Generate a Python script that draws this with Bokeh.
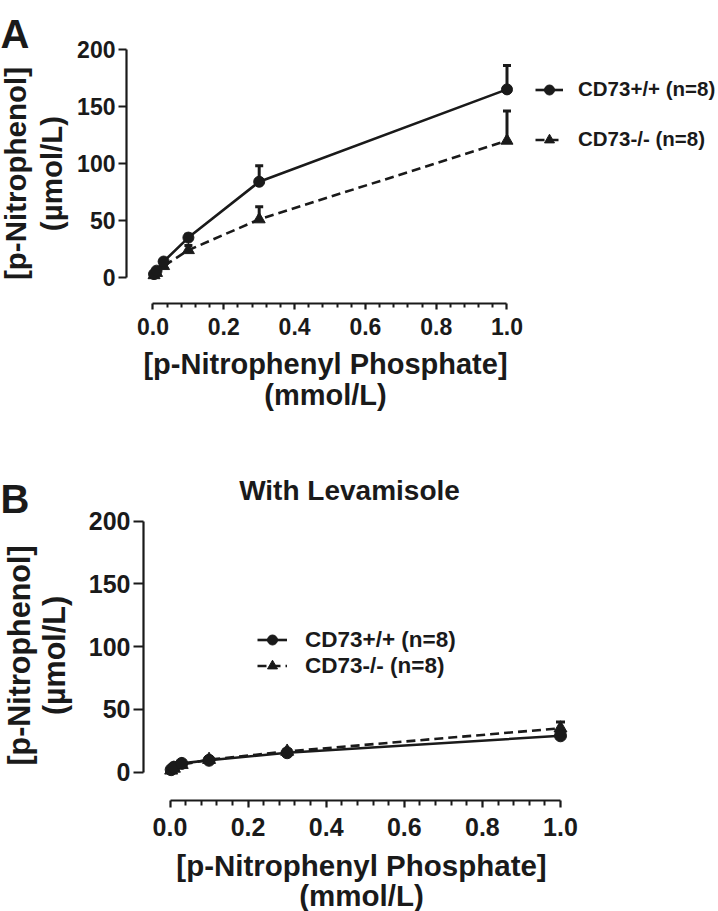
from math import pi
from bokeh.plotting import figure
from bokeh.models import (Range1d, FixedTicker, PrintfTickFormatter, Whisker, TeeHead,
                          ColumnDataSource, Legend, LegendItem, Label, LinearAxis)
from bokeh.embed import file_html
from bokeh.resources import INLINE

# ---------------- data ----------------
conc = [0.003, 0.01, 0.03, 0.1, 0.3, 1.0]          # mmol/L p-nitrophenyl phosphate

a_wt = [3, 6, 14, 35, 84, 165]
a_wt_sem = [1, 1, 2, 3, 14, 21]
a_ko = [2, 4, 10, 24, 51, 120]
a_ko_sem = [1, 1, 1, 4, 11, 26]

b_wt = [2, 4, 7, 9.5, 15.5, 29]
b_wt_sem = [1, 1, 1, 1, 1, 3]
b_ko = [1.5, 3, 6, 10, 16.5, 35]
b_ko_sem = [0.5, 1, 1, 1, 1.5, 5]

series_labels = ["CD73+/+ (n=8)", "CD73-/- (n=8)"]
x_ticks = [0.0, 0.2, 0.4, 0.6, 0.8, 1.0]
x_minor = [0.04, 0.08, 0.12, 0.16, 0.24, 0.28, 0.32, 0.36, 0.44, 0.48, 0.52, 0.56,
           0.64, 0.68, 0.72, 0.76, 0.84, 0.88, 0.92, 0.96]
y_ticks = [0, 50, 100, 150, 200]
x_title = ["[p-Nitrophenyl Phosphate]", "(mmol/L)"]
y_title = ["[p-Nitrophenol]", "(µmol/L)"]
panel_letters = ["A", "B"]
panel_b_title = "With Levamisole"

FONT = "Liberation Sans"
INK = "#1a1a1a"
W, H = 718, 911

# One canvas; panel A uses the default ranges, panel B the "b" ranges.
p = figure(width=W, height=H, title=None,
           x_range=Range1d(-0.43079, 1.59746), y_range=Range1d(-556.14, 242.98),
           x_axis_location=None, y_axis_location=None,
           output_backend="svg", toolbar_location=None,
           min_border=0, min_border_left=0, min_border_right=0,
           min_border_top=0, min_border_bottom=0)
p.extra_x_ranges = {"b": Range1d(-0.43406, 1.40461)}
p.extra_y_ranges = {"b": Range1d(-111.0, 614.9)}
p.outline_line_color = None
p.grid.visible = False
p.background_fill_color = "white"
p.border_fill_color = "white"


def style_axis(ax, tick_fs, tick_out, minor_out, standoff):
    ax.axis_line_width = 2.2
    ax.axis_line_color = INK
    ax.major_tick_line_width = 2.2
    ax.major_tick_line_color = INK
    ax.minor_tick_line_width = 2
    ax.minor_tick_line_color = INK
    ax.major_tick_in = 0
    ax.minor_tick_in = 0
    ax.major_tick_out = tick_out
    ax.minor_tick_out = minor_out
    ax.major_label_standoff = standoff
    ax.major_label_text_font = FONT
    ax.major_label_text_font_style = "bold"
    ax.major_label_text_font_size = tick_fs
    ax.major_label_text_color = INK


def panel(wt, wt_sem, ko, ko_sem, rng, cfg):
    kw = {} if rng is None else dict(x_range_name=rng, y_range_name=rng)

    xa = LinearAxis(ticker=FixedTicker(ticks=x_ticks, minor_ticks=x_minor),
                    formatter=PrintfTickFormatter(format="%.1f"),
                    bounds=(0, 1), fixed_location=cfg["x_axis_at"], **kw)
    style_axis(xa, cfg["tick_fs"], cfg["xtick"], cfg["xtick"] - 2, cfg["xstand"])
    p.add_layout(xa, "below")

    ya = LinearAxis(ticker=FixedTicker(ticks=y_ticks, minor_ticks=[]),
                    bounds=(0, 200), fixed_location=cfg["y_axis_at"], **kw)
    style_axis(ya, cfg["tick_fs"], cfg["ytick"], 0, 3)
    p.add_layout(ya, "left")

    src_wt = ColumnDataSource(dict(x=conc, y=wt, up=[a + b for a, b in zip(wt, wt_sem)]))
    src_ko = ColumnDataSource(dict(x=conc, y=ko, up=[a + b for a, b in zip(ko, ko_sem)]))

    for src in (src_ko, src_wt):
        p.add_layout(Whisker(source=src, base="x", lower="y", upper="up", dimension="height",
                             line_width=3, line_color=INK, lower_head=None,
                             upper_head=TeeHead(size=cfg["cap"], line_width=3, line_color=INK),
                             **kw))

    l_ko = p.line("x", "y", source=src_ko, line_width=2.6, line_color=INK, line_dash="9 5", **kw)
    s_ko = p.scatter("x", "y", source=src_ko, marker="triangle", size=cfg["msize"] + 1,
                     fill_color=INK, line_color=INK, **kw)
    l_wt = p.line("x", "y", source=src_wt, line_width=2.6, line_color=INK, **kw)
    s_wt = p.scatter("x", "y", source=src_wt, marker="circle", size=cfg["msize"],
                     fill_color=INK, line_color=INK, **kw)

    leg = Legend(items=[LegendItem(label=series_labels[0], renderers=[l_wt, s_wt]),
                        LegendItem(label=series_labels[1], renderers=[l_ko, s_ko])],
                 location=cfg["leg_loc"], orientation="vertical", padding=0, margin=0,
                 spacing=cfg["leg_sp"], glyph_width=cfg["leg_gw"], glyph_height=cfg["leg_h"],
                 label_height=cfg["leg_h"], label_standoff=cfg["leg_so"],
                 label_text_font=FONT, label_text_font_size=cfg["leg_fs"],
                 label_text_font_style="bold", label_text_color=INK,
                 border_line_alpha=0, background_fill_alpha=0)
    p.add_layout(leg)

    def lab(text, xy, fs, angle=0, align="center", base="middle"):
        p.add_layout(Label(x=xy[0], y=xy[1], x_units="screen", y_units="screen", text=text,
                           angle=angle, text_font=FONT, text_font_style="bold",
                           text_font_size=fs, text_color=INK,
                           text_align=align, text_baseline=base))

    lab(cfg["letter"], cfg["letter_xy"], "40px", align="left", base="alphabetic")
    lab(y_title[0], cfg["yt1"], cfg["yt_fs"], angle=pi / 2)
    lab(y_title[1], cfg["yt2"], cfg["yt_fs"], angle=pi / 2)
    lab(x_title[0], cfg["xt1"], cfg["xt_fs"])
    lab(x_title[1], cfg["xt2"], cfg["xt_fs"])
    if cfg.get("title"):
        lab(cfg["title"], cfg["title_xy"], "28px", align="center", base="alphabetic")


# screen positions below are in px from the canvas' bottom-left corner
cfg_a = dict(x_axis_at=-22.807, y_axis_at=-0.074859,
             tick_fs="23px", xtick=6, ytick=8, xstand=9, cap=8, msize=11,
             leg_loc=(535, 759.5), leg_sp=25, leg_gw=28, leg_h=25, leg_so=15, leg_fs="20.5px",
             letter=panel_letters[0], letter_xy=(0, 878),
             yt1=(15, 738), yt2=(51, 738), yt_fs="29.5px",
             xt1=(325, 548), xt2=(325, 517), xt_fs="29px")

cfg_b = dict(x_axis_at=-22.55, y_axis_at=-0.067862,
             tick_fs="25px", xtick=7, ytick=10, xstand=11, cap=9, msize=12,
             leg_loc=(257, 232.5), leg_sp=0, leg_gw=30, leg_h=25, leg_so=18, leg_fs="22.5px",
             letter=panel_letters[1], letter_xy=(0, 413),
             yt1=(18, 256), yt2=(53, 256), yt_fs="30.5px",
             xt1=(361, 46.5), xt2=(361, 16), xt_fs="29.5px",
             title=panel_b_title, title_xy=(349, 421))

panel(a_wt, a_wt_sem, a_ko, a_ko_sem, None, cfg_a)
panel(b_wt, b_wt_sem, b_ko, b_ko_sem, "b", cfg_b)

open("out.html", "w").write(file_html(p, INLINE))
